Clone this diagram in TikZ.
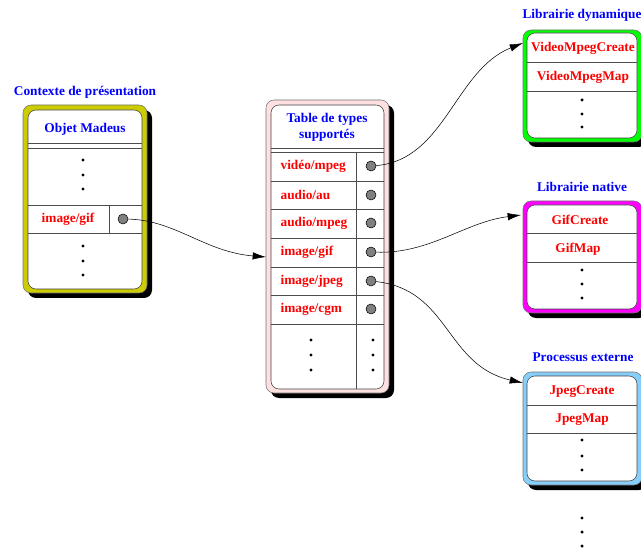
\documentclass[tikz,border=0pt]{standalone}
\usepackage{fontspec}
\setmainfont{Liberation Serif}
\usepackage{tikz}
\usetikzlibrary{arrows.meta, positioning, calc}

\definecolor{ctxyellow}{RGB}{204,204,0}
\definecolor{tabpink}{RGB}{255,224,224}
\definecolor{dyngreen}{RGB}{0,255,0}
\definecolor{natmagenta}{RGB}{255,0,255}
\definecolor{extblue}{RGB}{135,206,250}

\begin{document}
\begin{tikzpicture}[x=0.75pt, y=-0.75pt,
  shadow/.style = {fill=black, rounded corners=6pt},
  frame/.style  = {draw=black!55, rounded corners=6pt},
  inner/.style  = {draw=black!75, fill=white, rounded corners=6pt},
  sep/.style    = {draw=black!70},
  title/.style  = {font=\bfseries, text=blue, align=center, inner sep=1pt},
  item/.style   = {font=\bfseries, text=red, inner sep=1pt},
  port/.style   = {circle, draw=black, fill=black!50, minimum size=7.5pt, inner sep=0pt},
  arr/.style    = {-{Latex[length=10pt,width=5.5pt]}, black},
]
  \clip (0,0) rectangle (641,548);

  % contexte de presentation
  \node[title] (ctxlbl) at (85,92) {Contexte de présentation};
  \fill[shadow] (28,110) rectangle (152,298);
  \draw[frame, fill=ctxyellow] (23,105) rectangle (147,293);
  \draw[inner] (28,110) rectangle (142,289);
  \draw[sep] (28,143) -- (142,143) (28,148) -- (142,148);
  \draw[sep] (28,205) -- (142,205) (28,233) -- (142,233) (109,205) -- (109,233);
  \node[title] (objet) at (85,129) {Objet Madeus};
  \node[item] (ctxgif) at (68,219) {image/gif};
  \node[port] (ctxport) at (123,219) {};
  \foreach \y in {160,175,189,246,261,275} \fill (83,\y) circle (1.3pt);

  % table de types
  \fill[shadow] (271,105) rectangle (394,398);
  \draw[frame, fill=tabpink] (266,100) rectangle (389,393);
  \draw[inner] (271,105) rectangle (384,389);
  \node[title] (table) at (327,127) {Table de types\\supportés};
  \foreach \y in {148,152,181,209,238,267,295,324} \draw[sep] (271,\y) -- (384,\y);
  \draw[sep] (356,152) -- (356,389);
  \node[item, anchor=west] (vmpeg)  at (279,166) {vidéo/mpeg};
  \node[item, anchor=west] (aau)    at (279,195) {audio/au};
  \node[item, anchor=west] (ampeg)  at (279,223) {audio/mpeg};
  \node[item, anchor=west] (igif)   at (279,252) {image/gif};
  \node[item, anchor=west] (ijpeg)  at (279,281) {image/jpeg};
  \node[item, anchor=west] (icgm)   at (279,309) {image/cgm};
  \node[port] (vmpegport) at (371,166) {};
  \node[port] (aauport)   at (371,195) {};
  \node[port] (ampegport) at (371,223) {};
  \node[port] (igifport)  at (371,252) {};
  \node[port] (ijpegport) at (371,281) {};
  \node[port] (icgmport)  at (371,309) {};
  \foreach \y in {340,355,370} \fill (311,\y) circle (1.3pt) (373,\y) circle (1.3pt);
  \coordinate (tabin) at (266,257);

  % librairie dynamique
  \node[title] (dynlbl) at (582,15) {Librairie dynamique};
  \fill[shadow] (528,35) rectangle (647,147);
  \draw[frame, fill=dyngreen] (523,30) rectangle (642,142);
  \draw[inner] (527,33) rectangle (637,138);
  \draw[sep] (527,62) -- (637,62) (527,91) -- (637,91);
  \node[item] (vcreate) at (583,48) {VideoMpegCreate};
  \node[item] (vmap) at (583,77) {VideoMpegMap};
  \foreach \y in {100,114,127} \fill (582,\y) circle (1.3pt);
  \coordinate (dynin) at (523,43);

  % librairie native
  \node[title] (natlbl) at (582,187) {Librairie native};
  \fill[shadow] (528,206) rectangle (647,318);
  \draw[frame, fill=natmagenta] (523,201) rectangle (642,313);
  \draw[inner] (527,205) rectangle (637,309);
  \draw[sep] (527,233) -- (637,233) (527,262) -- (637,262);
  \node[item] (gcreate) at (580,220) {GifCreate};
  \node[item] (gmap) at (578,249) {GifMap};
  \foreach \y in {270,284,298} \fill (582,\y) circle (1.3pt);
  \coordinate (natin) at (521,215);

  % processus externe
  \node[title] (extlbl) at (583,357) {Processus externe};
  \fill[shadow] (528,377) rectangle (647,490);
  \draw[frame, fill=extblue] (523,372) rectangle (642,485);
  \draw[inner] (527,376) rectangle (637,481);
  \draw[sep] (527,405) -- (637,405) (527,433) -- (637,433);
  \node[item] (jcreate) at (582,392) {JpegCreate};
  \node[item] (jmap) at (582,420) {JpegMap};
  \foreach \y in {440,456,470,518,532,546} \fill (582,\y) circle (1.3pt);
  \coordinate (extin) at (523,383);

  \draw[arr] (ctxport) .. controls (175,220) and (205,252) .. (tabin);
  \draw[arr] (vmpegport) .. controls (445,160) and (455,70) .. (dynin);
  \draw[arr] (igifport) .. controls (430,254) and (465,222) .. (natin);
  \draw[arr] (ijpegport) .. controls (450,290) and (445,365) .. (extin);
\end{tikzpicture}
\end{document}
